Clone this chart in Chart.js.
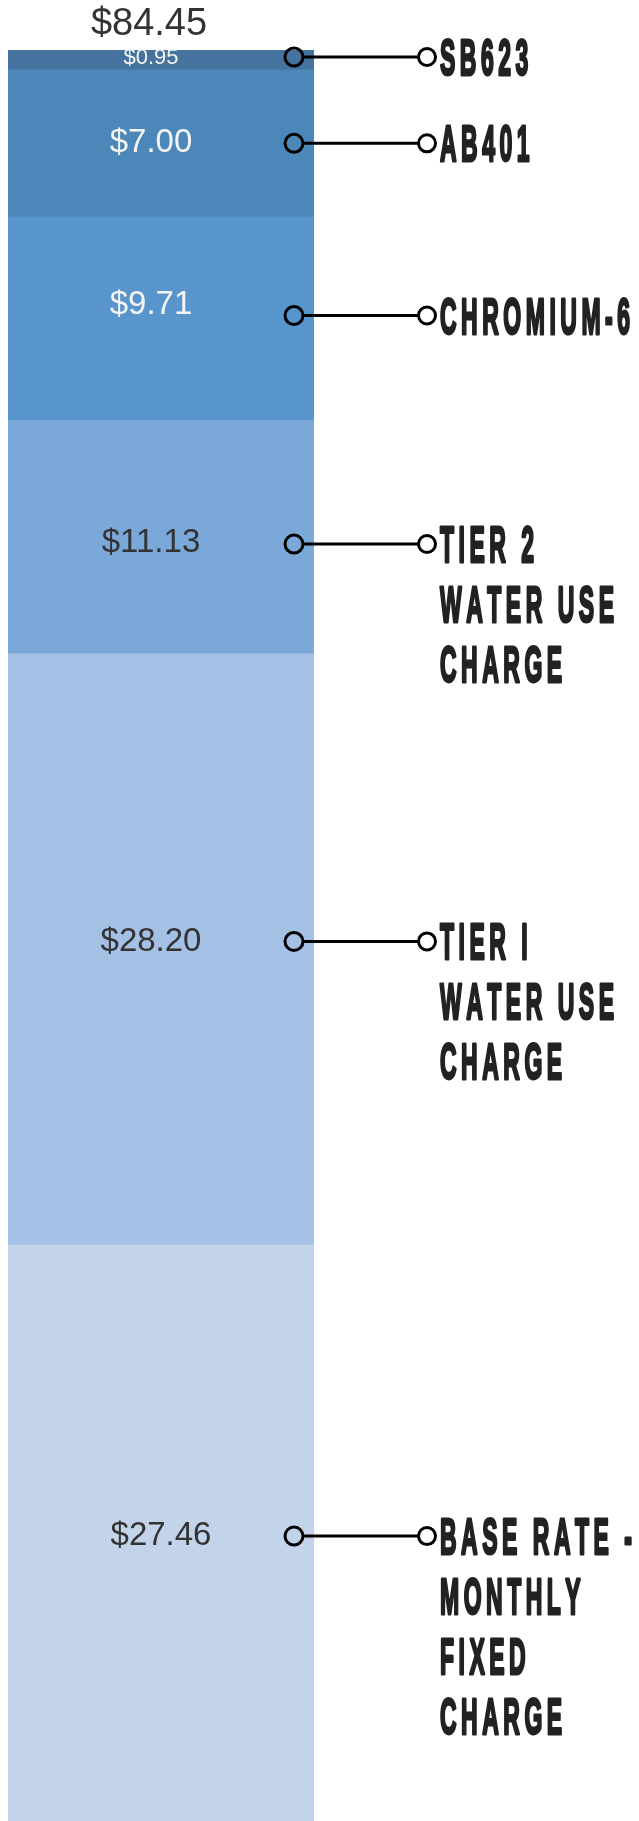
<!DOCTYPE html>
<html>
<head>
<meta charset="utf-8">
<script src="https://cdn.jsdelivr.net/npm/chart.js@4.4.1/dist/chart.umd.min.js"></script>
<style>
  html, body { margin: 0; padding: 0; background: #fff; overflow: hidden; }
  #wrap { width: 639px; height: 1821px; position: relative; }
</style>
</head>
<body>
<div id="wrap"><canvas id="myChart"></canvas></div>
<script>
// stacked from the bottom up
const categories = ['Base Rate', 'Tier 1', 'Tier 2', 'Chromium-6', 'AB401', 'SB623'];
const charges = [27.46, 28.20, 11.13, 9.71, 7.00, 0.95];
const calloutLines = [
  ['BASE RATE -', 'MONTHLY', 'FIXED', 'CHARGE'],
  ['TIER I', 'WATER USE', 'CHARGE'],
  ['TIER 2', 'WATER USE', 'CHARGE'],
  ['CHROMIUM-6'],
  ['AB401'],
  ['SB623']
];
const totalCharge = 84.45;

const colors = ['#c3d4ea', '#a4c0e4', '#7aa8d9', '#5795cc', '#4b87b9', '#45729e'];
const labelColors = ['#333', '#333', '#333', '#f4f4f4', '#f4f4f4', '#f4f4f4'];
const labelSizes = [33, 33, 33, 33, 33, 22];
// small nudges so the texts sit where the original put them
const labelDx = [0, -10, -10, -10, -10, -10];
const labelDy = [3, -8, 6, -14, 0, -2];
const calloutDy = [3, -8, 7, -3, 0, -3];

const money = v => '$' + v.toFixed(2);

// tall condensed caption text, drawn letter by letter
function drawCondensed(ctx, str, x, y) {
  const sx = 0.46, gap = 4.5;
  ctx.font = 'bold 50px "Liberation Sans", Arial, sans-serif';
  ctx.fillStyle = '#222';
  ctx.strokeStyle = '#222';
  ctx.lineWidth = 3;
  ctx.lineJoin = 'round';
  ctx.textAlign = 'left';
  ctx.textBaseline = 'alphabetic';
  let cx = x;
  for (const ch of str) {
    const w = ctx.measureText(ch).width * sx;
    if (ch !== ' ') {
      ctx.save();
      ctx.translate(cx, y);
      ctx.scale(sx, 1);
      ctx.fillText(ch, 0, 0);
      ctx.strokeText(ch, 0, 0);
      ctx.restore();
    }
    cx += w + gap;
  }
}

const calloutPlugin = {
  id: 'callouts',
  afterDatasetsDraw(chart) {
    const ctx = chart.ctx;
    const area = chart.chartArea;
    const midX = (area.left + area.right) / 2;
    ctx.save();

    chart.data.datasets.forEach((ds, i) => {
      const bar = chart.getDatasetMeta(i).data[0];
      const mid = (bar.y + bar.base) / 2;

      ctx.font = labelSizes[i] + 'px "Liberation Sans", Arial, sans-serif';
      ctx.fillStyle = labelColors[i];
      ctx.textAlign = 'center';
      ctx.textBaseline = 'middle';
      ctx.fillText(money(ds.data[0]), midX + labelDx[i], mid + labelDy[i]);

      const cy = mid + calloutDy[i];
      const x1 = area.right - 20, x2 = area.right + 113;
      ctx.strokeStyle = '#000';
      ctx.lineWidth = 3;
      ctx.beginPath();
      ctx.moveTo(x1 + 9, cy);
      ctx.lineTo(x2 - 9, cy);
      ctx.stroke();
      ctx.beginPath();
      ctx.arc(x1, cy, 9, 0, Math.PI * 2);
      ctx.stroke();
      ctx.beginPath();
      ctx.arc(x2, cy, 8.5, 0, Math.PI * 2);
      ctx.fillStyle = '#fff';
      ctx.fill();
      ctx.stroke();

      calloutLines[i].forEach((line, k) => {
        drawCondensed(ctx, line, x2 + 13, cy + 18 + k * 60);
      });
    });

    ctx.font = '38px "Liberation Sans", Arial, sans-serif';
    ctx.fillStyle = '#333';
    ctx.textAlign = 'center';
    ctx.textBaseline = 'middle';
    ctx.fillText(money(totalCharge), midX - 12, area.top - 25);
    ctx.restore();
  }
};

const ctx = document.getElementById('myChart').getContext('2d');
new Chart(ctx, {
  type: 'bar',
  data: {
    labels: ['Monthly bill'],
    datasets: categories.map((name, i) => ({
      label: name,
      data: [charges[i]],
      backgroundColor: colors[i],
      borderWidth: 0,
      barPercentage: 1,
      categoryPercentage: 1
    }))
  },
  options: {
    responsive: true,
    maintainAspectRatio: false,
    animation: false,
    layout: { padding: { top: 50, left: 8, right: 325, bottom: 0 } },
    plugins: { legend: { display: false }, tooltip: { enabled: false } },
    scales: {
      x: { stacked: true, display: false },
      y: { stacked: true, display: false, min: 0, max: totalCharge }
    }
  },
  plugins: [calloutPlugin]
});
</script>
</body>
</html>
